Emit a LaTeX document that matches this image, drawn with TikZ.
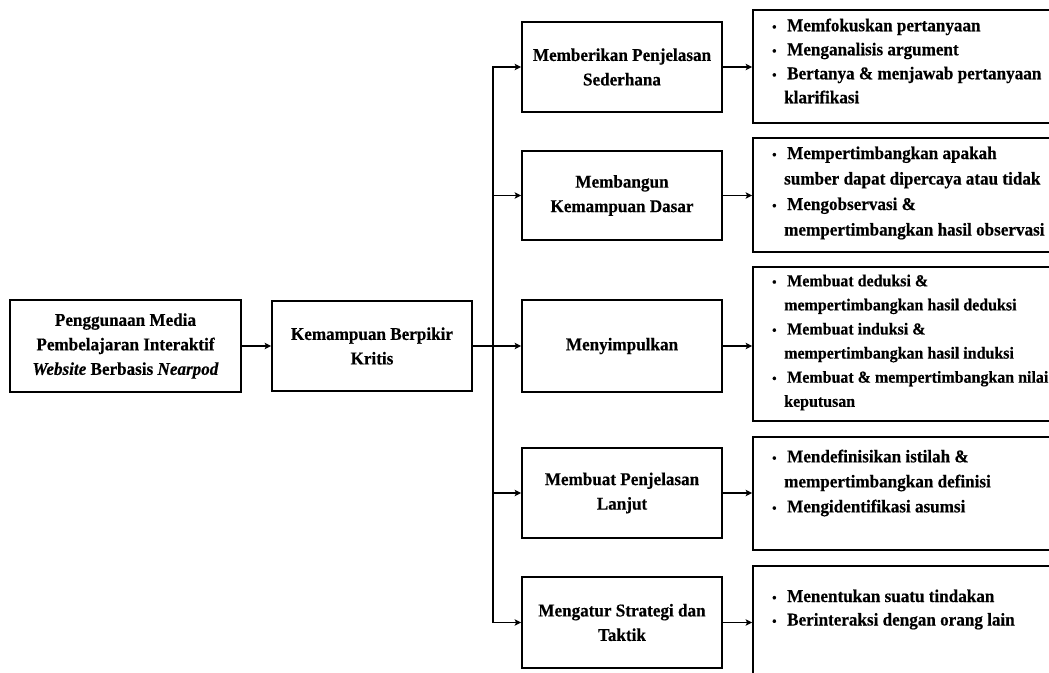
\documentclass[tikz,border=0pt]{standalone}
\usepackage{fontspec}
\setmainfont{Liberation Serif}[FakeStretch=0.95, BoldFeatures={FakeBold=0.4}, BoldItalicFeatures={FakeBold=0.4}]
\usetikzlibrary{arrows.meta}
\newcommand\bul{\makebox[15pt][l]{\hspace{0pt}{\fontsize{13}{13}\selectfont\textbullet}}}
\newcommand\cnt{\makebox[12pt][l]{}}
\begin{document}
\begin{tikzpicture}[x=1pt,y=-1pt,
  box/.style={draw, line width=1.8pt, rectangle, inner sep=0pt, align=center,
    font=\fontsize{18}{24.5}\selectfont\bfseries},
  rbox/.style={draw, line width=1.8pt, rectangle, inner sep=0pt, minimum width=327pt},
  rtext/.style={inner sep=0pt, align=left, anchor=west,
    font=\fontsize{18}{24}\selectfont\bfseries},
  link/.style={line width=1.7pt},
  arr/.style={line width=1.7pt, -{Stealth[length=6.5pt,width=6.5pt,inset=1.5pt]}}
]
\useasboundingbox (0,0) rectangle (1049,672);
\clip (0,0) rectangle (1049,672);

% left boxes
\node[box, minimum width=231pt, minimum height=92pt] (A) at (125.5,346)
  {Penggunaan Media\\Pembelajaran Interaktif\\\textit{Website} Berbasis \textit{Nearpod}};
\node[box, minimum width=200pt, minimum height=90pt] (B) at (372,346)
  {Kemampuan Berpikir\\Kritis};

% middle boxes
\node[box, minimum width=200pt, minimum height=90pt] (m1) at (622,67)
  {Memberikan Penjelasan\\Sederhana};
\node[box, minimum width=200pt, minimum height=89pt] (m2) at (622,195.5)
  {Membangun\\Kemampuan Dasar};
\node[box, minimum width=200pt, minimum height=92pt] (m3) at (622,346)
  {Menyimpulkan};
\node[box, minimum width=200pt, minimum height=90pt] (m4) at (622,493)
  {Membuat Penjelasan\\Lanjut};
\node[box, minimum width=200pt, minimum height=91pt] (m5) at (622,622.5)
  {Mengatur Strategi dan\\Taktik};

% right boxes
\node[rbox, minimum height=113pt] (r1) at (916.5,66.5) {};
\node[rbox, minimum height=114pt] (r2) at (916.5,195) {};
\node[rbox, minimum height=154pt] (r3) at (916.5,344) {};
\node[rbox, minimum height=113pt] (r4) at (916.5,493.5) {};
\node[rbox, minimum height=134pt] (r5) at (916.5,633) {};

% right texts
\node[rtext] (t1) at (772,61) {\bul Memfokuskan pertanyaan\\\bul Menganalisis argument\\\bul Bertanya \& menjawab pertanyaan\\\cnt klarifikasi};
\node[rtext, font=\fontsize{18}{25.5}\selectfont\bfseries] (t2) at (772,193) {\bul Mempertimbangkan apakah\\\cnt sumber dapat dipercaya atau tidak\\\bul Mengobservasi \&\\\cnt mempertimbangkan hasil observasi};
\node[rtext, font=\fontsize{16.8}{24.1}\selectfont\bfseries] (t3) at (772,342.5) {\bul Membuat deduksi \&\\\cnt mempertimbangkan hasil deduksi\\\bul Membuat induksi \&\\\cnt mempertimbangkan hasil induksi\\\bul Membuat \& mempertimbangkan nilai\\\cnt keputusan};
\node[rtext, font=\fontsize{18}{25}\selectfont\bfseries] (t4) at (772,483) {\bul Mendefinisikan istilah \&\\\cnt mempertimbangkan definisi\\\bul Mengidentifikasi asumsi};
\node[rtext, font=\fontsize{18}{23.5}\selectfont\bfseries] (t5) at (772,609.5) {\bul Menentukan suatu tindakan\\\bul Berinteraksi dengan orang lain};

% connectors
\coordinate (tx) at (493,346);
\draw[arr] (A.east) -- (A.east -| B.west);
\draw[link] (B.east) -- (tx);
\draw[arr] (tx) |- (m1.west);
\draw[arr] (tx) |- (m5.west);
\draw[arr] (tx |- m2.west) -- (m2.west);
\draw[arr] (tx) -- (m3.west);
\draw[arr] (tx |- m4.west) -- (m4.west);
\foreach \i in {1,...,5}{
  \draw[arr] (m\i.east) -- (m\i.east -| r\i.west);
}
\end{tikzpicture}
\end{document}
